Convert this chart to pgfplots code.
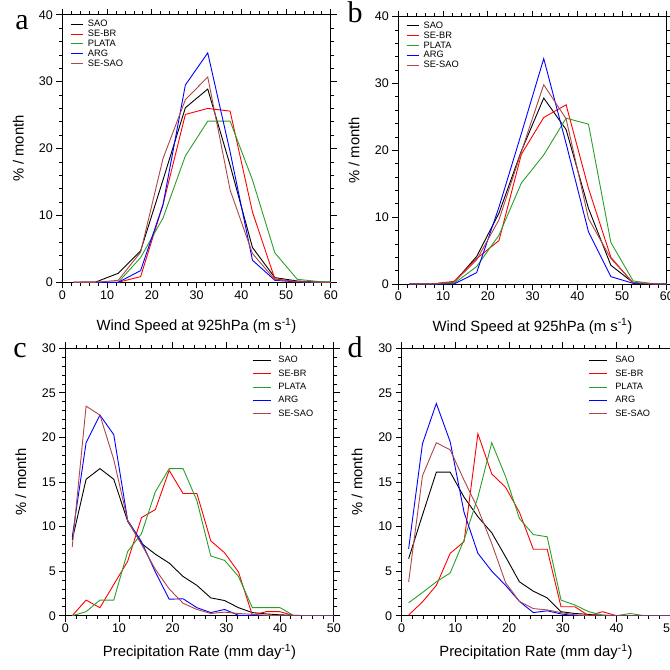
\documentclass[border=0pt]{standalone}
\usepackage{fontspec}
\setmainfont{Liberation Sans}
\newfontfamily\letterfont{Liberation Serif}
\usepackage{pgfplots}
\usepackage{pgfplotstable}
\pgfplotsset{compat=1.18}

\definecolor{cgreen}{RGB}{40,160,40}
\definecolor{cbrown}{RGB}{175,70,70}

% wind speed histograms (bin centres, m/s)
\pgfplotstableread{
x    sao   sebr  plata arg   sesao
2.5  0     0     0     0     0
7.5  0.05  0     0     0     0
12.5 1.35  0     0     0     0.3
17.5 4.7   0.85  3.7   1.75  4.5
22.5 15.3  11.6  9.6   11.6  18.5
27.5 26.1  25.1  18.9  29.5  27.3
32.5 28.9  26.0  24.1  34.3  30.7
37.5 17.5  25.6  24.1  19.5  13.8
42.5 5.2   10.5  15.3  3.3   4.3
47.5 0.7   0.5   4.4   0.3   0.4
52.5 0.2   0.1   0.45  0.05  0.1
57.5 0     0     0.1   0     0
62.5 0     0     0     0     0
}\windA

\pgfplotstableread{
x    sao   sebr  plata arg   sesao
2.5  0     0     0     0     0
7.5  0     0     0     0     0
12.5 0.3   0.4   0.1   0     0.3
17.5 4.1   3.8   2.6   1.7   3.6
22.5 10.6  6.5   7.3   11.5  9.6
27.5 19.9  19.4  15.1  22.5  19.8
32.5 27.8  24.9  19.3  33.7  29.8
37.5 23.1  26.8  24.8  21.0  24.7
42.5 11.3  14.3  23.9  7.8   9.8
47.5 2.8   4.0   6.2   1.1   3.8
52.5 0.2   0.1   0.45  0.1   0.2
57.5 0     0     0     0     0
62.5 0     0     0     0     0
}\windB

% precipitation histograms (bin centres, mm/day)
\pgfplotstableread{
x     sao   sebr  plata arg   sesao
1.29  8.5   0     0     8.8   7.7
3.87  15.3  1.75  0.45  19.4  23.5
6.45  16.5  0.9   1.75  22.5  22.5
9.03  15.3  3.5   1.75  20.3  17.5
11.61 10.6  6.1   7.2   10.7  10.7
14.19 8.1   11.0  9.2   8.3   8.0
16.77 6.9   11.9  13.9  4.9   5.2
19.35 5.9   16.3  16.5  1.85  3.0
21.93 4.4   13.7  16.5  1.9   1.4
24.51 3.4   13.7  12.9  0.9   0.7
27.09 2.0   8.4   6.7   0.35  0.25
29.67 1.7   7.05  6.2   0.7   0.4
32.25 0.9   4.9   4.4   0.05  0.25
34.83 0.35  0.07  0.9   0     0.15
37.41 0.2   0.45  0.9   0     0.05
39.99 0.1   0.45  0.9   0     0
42.57 0.05  0     0     0     0
45.15 0     0     0     0     0
47.73 0     0     0     0     0
50.31 0     0     0     0     0
}\precC

\pgfplotstableread{
x     sao   sebr  plata arg   sesao
1.29  6.4   0.07  1.45  7.5   3.8
3.87  11.3  1.55  2.6   19.3  15.7
6.45  16.1  3.4   3.8   23.8  19.4
9.03  16.1  7.0   4.8   19.5  18.6
11.61 13.3  8.3   8.5   11.6  15.2
14.19 11.1  20.4  13.3  7.0   12.0
16.77 9.3   15.9  19.4  5.0   8.1
19.35 6.6   14.4  15.6  3.4   3.7
21.93 3.8   11.6  10.9  1.6   1.6
24.51 2.75  7.45  9.1   0.35  0.8
27.09 2.0   7.45  8.85  0.55  0.65
29.67 0.45  1.0   1.75  0.2   0.35
32.25 0.25  1.0   1.2   0     0.1
34.83 0.15  0     0.45  0     0
37.41 0.05  0.45  0.07  0     0
39.99 0     0     0     0     0
42.57 0     0     0.25  0     0
45.15 0     0     0     0     0
47.73 0     0     0     0     0
50.31 0     0     0     0     0
}\precD

\pgfplotsset{
  ncl/.style={
    scale only axis, width=268.5pt, height=267.5pt,
    anchor=south west,
    axis line style={line width=0.8pt},
    tick align=outside,
    major tick length=6pt, minor tick length=3.5pt,
    every tick/.style={black, line width=0.7pt},
    minor x tick num=4, minor y tick num=4,
    tick label style={font=\fontsize{12.5}{12.5}\selectfont},
    xticklabel style={yshift=1.5pt},
    /pgf/number format/assume math mode=true,
    label style={font=\fontsize{14.8}{14.8}\selectfont},
    ylabel={\% / month},
    legend cell align=left,
    legend style={draw=none, fill=none, inner sep=0pt, anchor=north west,
      nodes={inner sep=0.6pt}},
    every axis plot/.append style={line width=0.9pt, mark=none},
  },
  windax/.style={ncl, xmin=0, xmax=60, ymin=0, ymax=40,
    xtick={0,10,...,60}, ytick={0,10,...,40},
    xlabel={Wind Speed at 925hPa (m s\textsuperscript{-1})},
    legend image code/.code={\draw[##1, line width=0.9pt] (0pt,0pt) -- (12pt,0pt);},
    legend style={row sep=0.7pt, font=\fontsize{9.3}{9.3}\selectfont,
      /tikz/every odd column/.append style={column sep=3.8pt}},
  },
  precax/.style={ncl, xmin=0, xmax=50, ymin=0, ymax=30,
    xtick={0,10,...,50}, ytick={0,5,...,30},
    xlabel={Precipitation Rate (mm day\textsuperscript{-1})},
    legend image code/.code={\draw[##1, line width=0.9pt] (0pt,0pt) -- (18pt,0pt);},
    legend style={row sep=4.2pt, font=\fontsize{9.2}{9.2}\selectfont,
      /tikz/every odd column/.append style={column sep=6.8pt}},
  },
}

\begin{document}
\begin{tikzpicture}
\begin{axis}[windax, at={(62.3pt,-282.3pt)},
    xlabel style={at={(axis description cs:0.5,-0.182)}, anchor=base},
    ylabel style={at={(axis description cs:-0.164,0.5)}, anchor=center},
    legend style={at={(axis description cs:0.03,0.983)}}]
\addplot[black] table[y=sao]{\windA};
\addplot[red] table[y=sebr]{\windA};
\addplot[cgreen] table[y=plata]{\windA};
\addplot[blue] table[y=arg]{\windA};
\addplot[cbrown] table[y=sesao]{\windA};
\legend{SAO,SE-BR,PLATA,ARG,SE-SAO}
\end{axis}

\begin{axis}[windax, at={(398.3pt,-284pt)},
    xlabel style={at={(axis description cs:0.5,-0.176)}, anchor=base},
    ylabel style={at={(axis description cs:-0.165,0.5)}, anchor=center},
    legend style={at={(axis description cs:0.029,0.983)}}]
\addplot[black] table[y=sao]{\windB};
\addplot[red] table[y=sebr]{\windB};
\addplot[cgreen] table[y=plata]{\windB};
\addplot[blue] table[y=arg]{\windB};
\addplot[cbrown] table[y=sesao]{\windB};
\legend{SAO,SE-BR,PLATA,ARG,SE-SAO}
\end{axis}

\begin{axis}[precax, at={(65.3pt,-615.7pt)},
    xlabel style={at={(axis description cs:0.5,-0.153)}, anchor=base},
    ylabel style={at={(axis description cs:-0.166,0.5)}, anchor=center},
    legend style={at={(axis description cs:0.695,0.972)}}]
\addplot[black] table[y=sao]{\precC};
\addplot[red] table[y=sebr]{\precC};
\addplot[cgreen] table[y=plata]{\precC};
\addplot[blue] table[y=arg]{\precC};
\addplot[cbrown] table[y=sesao]{\precC};
\legend{SAO,SE-BR,PLATA,ARG,SE-SAO}
\end{axis}

\begin{axis}[precax, at={(401.7pt,-615.7pt)},
    xlabel style={at={(axis description cs:0.5,-0.153)}, anchor=base},
    ylabel style={at={(axis description cs:-0.166,0.5)}, anchor=center},
    legend style={at={(axis description cs:0.697,0.972)}}]
\addplot[black] table[y=sao]{\precD};
\addplot[red] table[y=sebr]{\precD};
\addplot[cgreen] table[y=plata]{\precD};
\addplot[blue] table[y=arg]{\precD};
\addplot[cbrown] table[y=sesao]{\precD};
\legend{SAO,SE-BR,PLATA,ARG,SE-SAO}
\end{axis}

\begin{scope}[every node/.style={font=\letterfont\fontsize{30}{30}\selectfont, anchor=base}]
\node at (22pt,-29pt) {a};
\node at (355pt,-22pt) {b};
\node at (20pt,-357pt) {c};
\node at (355pt,-357pt) {d};
\end{scope}

\pgfresetboundingbox
\path[use as bounding box] (0pt,0pt) rectangle (670pt,-670pt);
\end{tikzpicture}
\end{document}
